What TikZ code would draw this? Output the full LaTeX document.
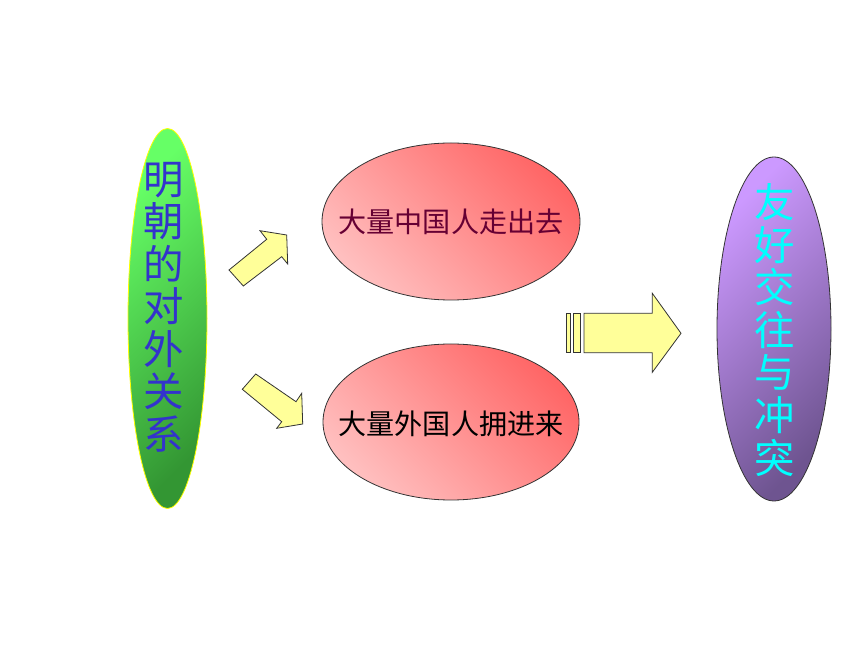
\documentclass[tikz,border=0pt]{standalone}
\usepackage{fontspec}
\newfontfamily\cjk{Noto Sans CJK SC}
\usetikzlibrary{shapes.geometric}
\definecolor{textblue}{HTML}{3333CC}
\definecolor{textmaroon}{HTML}{660033}
\definecolor{textcyan}{HTML}{00FFFF}
\definecolor{edgeyellow}{HTML}{FFFF00}
\definecolor{arrowyellow}{HTML}{FFFF99}
\tikzset{
  bigell/.style={ellipse, inner sep=0pt, line width=0.016cm},
  sidetext/.style={align=center, font=\cjk\fontsize{23}{24.2}\selectfont},
  midtext/.style={font=\cjk\fontsize{16}{18}\selectfont},
  blockarrow/.style={draw=black!80, line width=0.016cm, fill=arrowyellow, line join=miter}
}
\begin{document}
\begin{tikzpicture}
                    \useasboundingbox (0,0) rectangle (17.2,12.9);
                    {\cjk

                    % Drawing ellipse for the Ming relations
                    \node [bigell, draw=edgeyellow, top color={rgb,255:red,102;green,255;blue,102},
                           bottom color={rgb,255:red,51;green,150;blue,51},
                           shading angle=45, minimum width=1.580000cm, minimum height=7.600000cm]
                          (ming) at (3.350000,6.530000) {};%
                    \node [sidetext, text=textblue] (mingtext) at (3.280000,6.760000)
                          {明\\朝\\的\\对\\外\\关\\系};%

                    % Drawing ellipse for going out
                    \node [bigell, draw=black!80, top color=red!60, bottom color=red!25,
                           shading angle=-45, minimum width=5.160000cm, minimum height=3.140000cm]
                          (goout) at (9.020000,8.470000) {};%
                    \node [midtext, text=textmaroon] (goouttext) at (goout) {大量中国人走出去};%

                    % Drawing ellipse for coming in
                    \node [bigell, draw=black!80, top color=red!60, bottom color=red!25,
                           shading angle=-45, minimum width=5.120000cm, minimum height=3.120000cm]
                          (comein) at (9.020000,4.460000) {};%
                    \node [midtext, text=black] (comeintext) at (9.020000,4.420000) {大量外国人拥进来};%

                    % Drawing ellipse for the result
                    \node [bigell, draw=black!80, top color={rgb,255:red,204;green,153;blue,255},
                           bottom color={rgb,255:red,110;green,84;blue,144},
                           shading angle=45, minimum width=2.280000cm, minimum height=6.880000cm]
                          (result) at (15.480000,6.320000) {};%
                    \node [sidetext, text=textcyan] (resulttext) at (15.500000,6.300000)
                          {友\\好\\交\\往\\与\\冲\\突};%
                    }

                    % Drawing arrow up to going out
                    \draw [blockarrow] (4.580000,7.500000) -- (5.334000,8.114000) -- (5.200000,8.286000)
                          -- (5.734000,8.200000) -- (5.754000,7.620000) -- (5.634000,7.766000)
                          -- (4.866000,7.180000) -- cycle;%

                    % Drawing arrow down to coming in
                    \draw [blockarrow] (5.114000,5.420000) -- (5.920000,4.866000) -- (6.034000,5.034000)
                          -- (6.054000,4.420000) -- (5.534000,4.334000) -- (5.634000,4.466000)
                          -- (4.846000,5.114000) -- cycle;%

                    % Drawing striped arrow to the result
                    \draw [blockarrow] (11.320000,5.846000) rectangle (11.400000,6.634000);%
                    \draw [blockarrow] (11.466000,5.846000) rectangle (11.614000,6.634000);%
                    \draw [blockarrow] (11.680000,6.634000) -- (13.046000,6.634000) -- (13.046000,7.034000)
                          -- (13.620000,6.234000) -- (13.046000,5.454000) -- (13.046000,5.846000)
                          -- (11.680000,5.846000) -- cycle;%
                    \end{tikzpicture}
\end{document}
